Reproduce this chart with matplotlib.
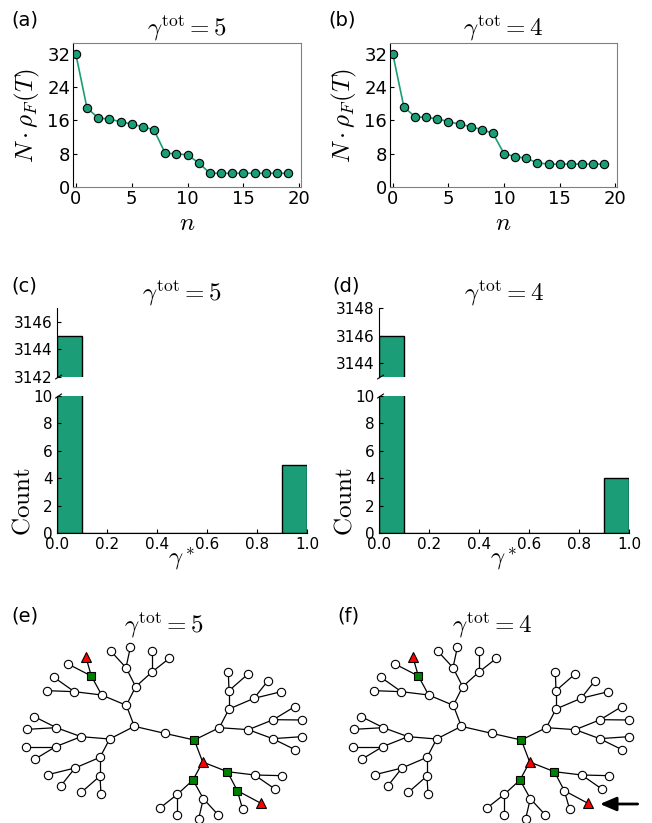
import numpy as np
import matplotlib
matplotlib.use('Agg')
import matplotlib.pyplot as plt

plt.rcParams['mathtext.fontset'] = 'cm'
plt.rcParams['font.family'] = 'DejaVu Sans'

teal = '#1b9e77'

# (a), (b): N*rho_F(T) vs n
n = np.arange(20)
rho_g5 = [32, 19.0, 16.6, 16.3, 15.7, 15.1, 14.5, 13.7, 8.1, 8.0,
          7.7, 5.8, 3.3, 3.3, 3.3, 3.3, 3.3, 3.3, 3.3, 3.3]
rho_g4 = [32, 19.2, 16.9, 16.7, 16.4, 15.7, 15.1, 14.5, 13.8, 12.9,
          8.0, 7.3, 6.9, 5.8, 5.5, 5.5, 5.5, 5.5, 5.5, 5.5]

# (c), (d): histogram of gamma*
bin_left = [0.0, 0.1, 0.2, 0.3, 0.4, 0.5, 0.6, 0.7, 0.8, 0.9]
counts_g5 = [3145, 0, 0, 0, 0, 0, 0, 0, 0, 5]
counts_g4 = [3146, 0, 0, 0, 0, 0, 0, 0, 0, 4]

# (e), (f): tree layout (node positions)
tree_x = [403, 494, 583, 329, 379, 407, 305, 378, 456, 332,
          391, 456, 508, 274, 223, 258, 204, 162, 141, 243,
          300, 169, 167, 103, 81, 79, 104, 225, 300, 144,
          183, 244, 303, 658, 608, 687, 745, 687, 762, 685,
          743, 804, 844, 820, 818, 884, 907, 906, 885, 579,
          682, 532, 610, 480, 532, 596, 655, 764, 712, 783,
          728, 846, 826]
tree_y = [379, 400, 420, 417, 316, 260, 285, 203, 216, 153,
          142, 153, 175, 228, 275, 172, 192, 232, 272, 410,
          472, 383, 440, 350, 388, 440, 478, 504, 528, 524,
          557, 577, 583, 383, 486, 327, 389, 272, 295, 217,
          223, 242, 275, 359, 416, 320, 360, 410, 449, 540,
          515, 583, 596, 624, 644, 656, 645, 525, 572, 610,
          628, 527, 568]
tree_edges = [(0, 1), (1, 2), (0, 3), (0, 4), (4, 5), (4, 6), (5, 7), (5, 8),
              (7, 9), (7, 10), (8, 11), (8, 12), (6, 13), (6, 14), (13, 15),
              (13, 16), (14, 17), (14, 18), (3, 19), (3, 20), (19, 21),
              (19, 22), (21, 23), (21, 24), (22, 25), (22, 26), (20, 27),
              (20, 28), (27, 29), (27, 30), (28, 31), (28, 32), (2, 33),
              (2, 34), (33, 35), (33, 36), (35, 37), (35, 38), (37, 39),
              (37, 40), (38, 41), (38, 42), (36, 43), (36, 44), (43, 45),
              (43, 46), (44, 47), (44, 48), (34, 49), (34, 50), (49, 51),
              (49, 52), (51, 53), (51, 54), (52, 55), (52, 56), (50, 57),
              (50, 58), (58, 59), (58, 60), (57, 61), (57, 62)]
triangles = [15, 34, 59]
squares_g5 = [2, 13, 49, 50, 58]
squares_g4 = [2, 13, 49, 50]

W, H = 652, 823
fig = plt.figure(figsize=(W / 100, H / 100), dpi=100)


def rect(left, top, right, bottom):
    return [left / W, 1 - bottom / H, (right - left) / W, (bottom - top) / H]


def rho_panel(r, vals, title):
    ax = fig.add_axes(r)
    ax.plot(n, vals, '-o', color=teal, lw=1.2, ms=6, mfc=teal, mec='k', mew=0.8)
    ax.set_xlim(-0.25, 20.15)
    ax.set_ylim(0, 34.6)
    ax.set_xticks([0, 5, 10, 15, 20])
    ax.set_yticks([0, 8, 16, 24, 32])
    ax.tick_params(direction='in', labelsize=13, length=3, pad=2)
    for s in ['top', 'right', 'bottom']:
        ax.spines[s].set_color('0.5')
    ax.spines['left'].set_color('k')
    ax.set_xlabel(r'$n$', fontsize=18, labelpad=2)
    ax.set_ylabel(r'$N\cdot\rho_F(T)$', fontsize=18, labelpad=4)
    ax.set_title(title, fontsize=18, pad=3)


rho_panel(rect(73, 43, 301, 187), rho_g5, r'$\gamma^{\rm tot}=5$')
rho_panel(rect(390, 43, 617, 187), rho_g4, r'$\gamma^{\rm tot}=4$')


def hist_panel(left, counts, top_lim, top_ticks, title):
    right = left + 250
    ax_t = fig.add_axes(rect(left, 308, right, 377))
    ax_b = fig.add_axes(rect(left, 396, right, 533))
    for ax in (ax_t, ax_b):
        ax.bar(bin_left, counts, width=0.1, align='edge', color=teal,
               edgecolor='k', lw=1)
        ax.set_xlim(0, 1)
        ax.spines['top'].set_visible(False)
        ax.spines['right'].set_visible(False)
        ax.tick_params(direction='in', labelsize=11, length=3, pad=3)
    ax_t.spines['bottom'].set_visible(False)
    ax_t.set_ylim(*top_lim)
    ax_t.set_yticks(top_ticks)
    ax_t.tick_params(bottom=False, labelbottom=False)
    ax_b.set_ylim(0, 10)
    ax_b.set_yticks([0, 2, 4, 6, 8, 10])
    ax_b.set_xticks([0.0, 0.2, 0.4, 0.6, 0.8, 1.0])
    ax_b.set_xlabel(r'$\gamma^*$', fontsize=18)
    ax_b.xaxis.set_label_coords(0.5, -0.085)
    ax_b.set_ylabel(r'$\mathrm{Count}$', fontsize=18)
    ax_b.yaxis.set_label_coords(-0.09, 0.23)
    ax_t.set_title(title, fontsize=18, pad=4)
    d = 0.018
    kw = dict(color='k', lw=0.8, clip_on=False)
    ax_t.plot((-d * 0.3, d), (-d * 1.5, d * 1.5), transform=ax_t.transAxes, **kw)
    ax_b.plot((-d * 0.3, d), (1 - d * 0.8, 1 + d * 0.8), transform=ax_b.transAxes, **kw)


hist_panel(57, counts_g5, (3142, 3147), [3142, 3144, 3146], r'$\gamma^{\rm tot}=5$')
hist_panel(379, counts_g4, (3143, 3148), [3144, 3146, 3148], r'$\gamma^{\rm tot}=4$')


def tree_panel(left, squares):
    ax = fig.add_axes(rect(left, 600, left + 330, 823))
    ax.set_xlim(0, 990)
    ax.set_ylim(669, 0)
    ax.axis('off')
    for i, j in tree_edges:
        ax.plot([tree_x[i], tree_x[j]], [tree_y[i], tree_y[j]], color='k',
                lw=0.9, zorder=1)
    circles = [k for k in range(len(tree_x)) if k not in squares and k not in triangles]
    ax.plot([tree_x[k] for k in circles], [tree_y[k] for k in circles], 'o',
            ms=6, mfc='white', mec='k', mew=0.8, zorder=2)
    ax.plot([tree_x[k] for k in squares], [tree_y[k] for k in squares], 's',
            ms=5.6, mfc='green', mec='k', mew=0.8, zorder=2)
    ax.plot([tree_x[k] for k in triangles], [tree_y[k] for k in triangles], '^',
            ms=6.8, mfc='red', mec='k', mew=0.8, zorder=2)
    return ax


tree_panel(0, squares_g5)
ax_f = tree_panel(327, squares_g4)
ax_f.annotate('', xy=(819, 612), xytext=(932, 612),
              arrowprops=dict(arrowstyle='-|>,head_length=0.7,head_width=0.3',
                              color='k', lw=2, mutation_scale=14, shrinkA=0, shrinkB=0))

fig.text(164 / W, 1 - 633 / H, r'$\gamma^{\rm tot}=5$', fontsize=18, ha='center', va='baseline')
fig.text(492 / W, 1 - 633 / H, r'$\gamma^{\rm tot}=4$', fontsize=18, ha='center', va='baseline')

labels = [('(a)', 11, 11), ('(b)', 328, 11), ('(c)', 11, 277),
          ('(d)', 332, 277), ('(e)', 11, 606), ('(f)', 337, 606)]
for txt, x, y in labels:
    fig.text(x / W, 1 - y / H, txt, fontsize=14, ha='left', va='top')

fig.savefig('out.png', dpi=100)
